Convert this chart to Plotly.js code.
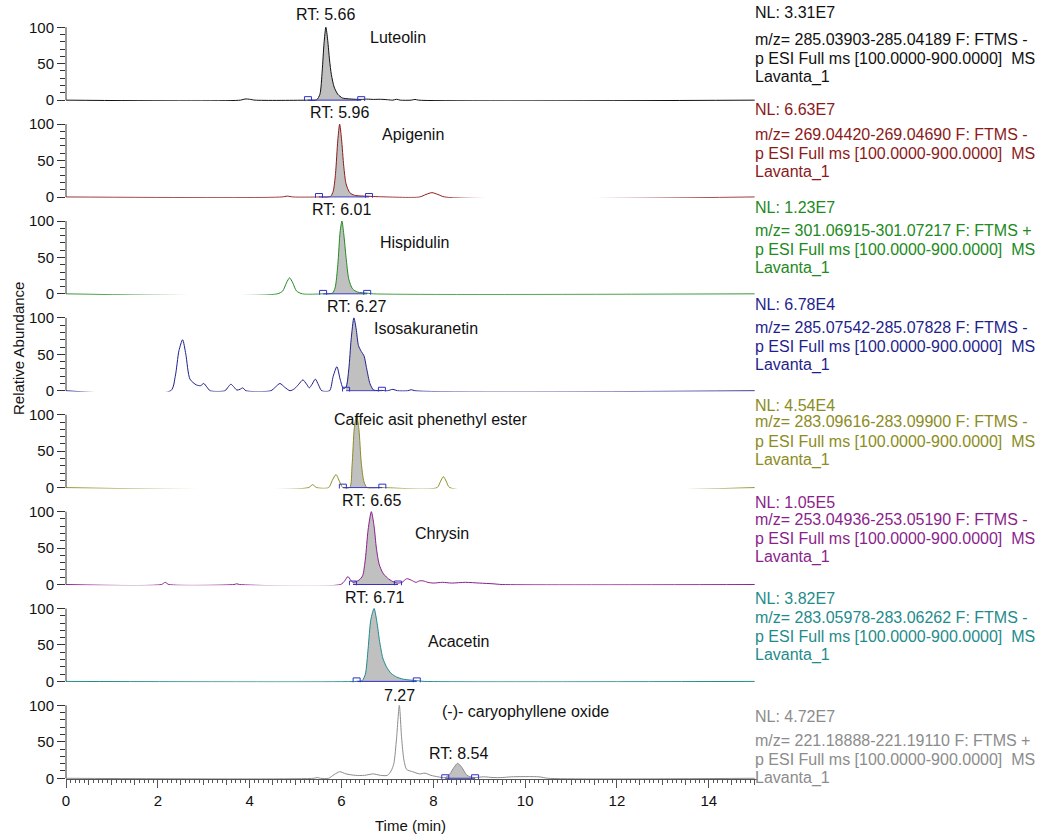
<!DOCTYPE html>
<html>
<head>
<meta charset="utf-8">
<script src="https://cdn.plot.ly/plotly-3.0.1.min.js"></script>
<style>
  html, body { margin: 0; padding: 0; background: #fff; }
  #chart { width: 1040px; height: 836px; }
</style>
</head>
<body>
<div id="chart"></div>
<script>
// ---- Extracted ion chromatograms, sample Lavanta_1 ----
const compounds = ["Luteolin", "Apigenin", "Hispidulin", "Isosakuranetin",
  "Caffeic asit phenethyl ester", "Chrysin", "Acacetin", "(-)- caryophyllene oxide"];
const rtLabels = ["RT: 5.66", "RT: 5.96", "RT: 6.01", "RT: 6.27", "", "RT: 6.65", "RT: 6.71", "7.27"];
const nlValues = ["3.31E7", "6.63E7", "1.23E7", "6.78E4", "4.54E4", "1.05E5", "3.82E7", "4.72E7"];
const mzRanges = ["285.03903-285.04189", "269.04420-269.04690", "301.06915-301.07217",
  "285.07542-285.07828", "283.09616-283.09900", "253.04936-253.05190",
  "283.05978-283.06262", "221.18888-221.19110"];
const polarity = ["-", "-", "+", "-", "-", "-", "-", "+"];
const scanFilter = "p ESI Full ms [100.0000-900.0000]  MS";
const sampleName = "Lavanta_1";

// integration window of the labelled peak (min)
const peakStart = [5.27, 5.51, 5.60, 6.10, 6.03, 6.25, 6.33, 8.26];
const peakEnd   = [6.43, 6.60, 6.56, 6.88, 6.89, 7.23, 7.64, 8.91];

// time (min) / relative abundance (%)
const luteolinTime = [0, 3.80, 3.90, 4.00, 4.12, 5.27, 5.46, 5.53, 5.58, 5.62, 5.66, 5.70, 5.74, 5.78, 5.84, 5.92, 6.02, 6.15, 6.30, 6.43, 6.55, 6.70, 6.85, 7.00, 7.12, 7.20, 7.28, 7.52, 7.60, 7.68, 15];
const luteolinAbund = [0, 0, 1.6, 1.2, 0, 0, 0.5, 8, 40, 78, 100, 82, 55, 35, 18, 8, 3, 1.8, 1.2, 1, 1.4, 1, 1.2, 0.6, 0, 1.2, 0, 0, 1, 0, 0];

const apigeninTime = [0, 4.70, 4.82, 4.95, 5.51, 5.76, 5.82, 5.87, 5.92, 5.96, 6.00, 6.05, 6.10, 6.18, 6.28, 6.40, 6.60, 6.80, 7.70, 7.84, 7.97, 8.10, 8.25, 15];
const apigeninAbund = [0, 0, 1.2, 0, 0, 0.8, 8, 32, 78, 100, 80, 42, 18, 6, 2.5, 1.5, 1, 0.4, 0, 3.5, 6, 3.5, 0, 0];

const hispidulinTime = [0, 4.60, 4.72, 4.80, 4.87, 4.94, 5.02, 5.15, 5.60, 5.80, 5.86, 5.92, 5.97, 6.01, 6.05, 6.10, 6.16, 6.24, 6.35, 6.56, 6.70, 15];
const hispidulinAbund = [0, 0, 4, 15, 22, 15, 4, 0, 0, 1, 8, 40, 85, 100, 82, 50, 20, 7, 2.5, 1, 0, 0];

const isosakuranetinTime = [0, 2.28, 2.38, 2.46, 2.54, 2.61, 2.70, 2.84, 2.93, 3.00, 3.07, 3.14, 3.46, 3.53, 3.59, 3.66, 3.72, 3.79, 3.85, 3.92, 4.46, 4.56, 4.66, 4.76, 4.88, 4.98, 5.07, 5.16, 5.24, 5.30, 5.36, 5.43, 5.50, 5.57, 5.74, 5.82, 5.90, 5.97, 6.04, 6.10, 6.16, 6.21, 6.27, 6.32, 6.37, 6.43, 6.49, 6.55, 6.62, 6.70, 6.88, 7.00, 7.12, 7.22, 7.44, 7.52, 7.60, 15];
const isosakuranetinAbund = [0, 0, 20, 55, 70, 50, 16, 8, 7, 10, 5, 0, 0, 5, 9, 5, 1, 2, 4, 0, 0, 5, 10, 5, 0, 3, 9, 15, 9, 4, 9, 16, 8, 0, 0, 20, 33, 16, 3, 5, 30, 70, 100, 85, 62, 54, 48, 30, 10, 1, 0.5, 0, 2, 0, 0, 1.5, 0, 0];

const caffeicTime = [0, 5.28, 5.37, 5.46, 5.72, 5.80, 5.88, 5.96, 6.03, 6.18, 6.23, 6.28, 6.33, 6.38, 6.43, 6.49, 6.56, 6.89, 8.08, 8.16, 8.22, 8.28, 8.36, 15];
const caffeicAbund = [0, 0, 4, 0, 0, 10, 18, 8, 0, 0, 30, 82, 100, 80, 35, 8, 0, 0, 0, 9, 15, 9, 0, 0];

const chrysinTime = [0, 2.08, 2.16, 2.24, 3.66, 3.72, 3.78, 5.98, 6.07, 6.14, 6.20, 6.25, 6.38, 6.46, 6.52, 6.58, 6.65, 6.71, 6.76, 6.82, 6.90, 7.00, 7.12, 7.23, 7.32, 7.42, 7.52, 7.62, 7.70, 7.78, 7.88, 8.00, 8.20, 8.40, 8.70, 9.00, 9.30, 9.50, 15];
const chrysinAbund = [0, 0, 3, 0, 0, 1, 0, 0, 5, 11, 6, 3, 6, 12, 35, 75, 100, 80, 50, 28, 16, 9, 4, 2, 3, 8, 6, 3, 5, 5, 3, 2, 3, 2, 3, 2, 1, 0, 0];

const acacetinTime = [0, 6.33, 6.45, 6.52, 6.58, 6.64, 6.71, 6.77, 6.83, 6.90, 6.98, 7.08, 7.20, 7.35, 7.64, 7.80, 15];
const acacetinAbund = [0, 0, 1, 10, 45, 85, 100, 82, 55, 32, 20, 11, 6, 3, 1, 0, 0];

const caryophylleneTime = [0, 5.40, 5.47, 5.54, 5.72, 5.84, 5.96, 6.10, 6.30, 6.50, 6.69, 6.85, 7.00, 7.08, 7.14, 7.20, 7.26, 7.31, 7.36, 7.42, 7.55, 7.70, 7.82, 7.95, 8.10, 8.26, 8.36, 8.45, 8.53, 8.62, 8.72, 8.80, 8.91, 9.10, 9.30, 9.50, 9.70, 10.30, 10.50, 15];
const caryophylleneAbund = [0, 0, 1, 0, 0, 5, 9, 6, 4, 4, 6, 4, 4, 10, 20, 55, 100, 55, 25, 12, 9, 6, 7, 4, 2, 1, 6, 15, 20.5, 15, 5, 2, 1, 2, 1, 1, 2, 2, 0, 0];

const seriesTime = [luteolinTime, apigeninTime, hispidulinTime, isosakuranetinTime,
  caffeicTime, chrysinTime, acacetinTime, caryophylleneTime];
const seriesAbund = [luteolinAbund, apigeninAbund, hispidulinAbund, isosakuranetinAbund,
  caffeicAbund, chrysinAbund, acacetinAbund, caryophylleneAbund];

// ---- styling ----
const FONT = "Liberation Sans, Arial, Helvetica, sans-serif";
const traceColors = ["#111111", "#8b1a1a", "#218a21", "#1f1f8c", "#8c8c22", "#8b1f8b", "#1f8b8b", "#8c8c8c"];
const textColors  = ["#111111", "#8b1a1a", "#218a21", "#1f1f8c", "#8c8c22", "#8b1f8b", "#1f8b8b", "#8c8c8c"];
const markerBlue = "#3030c8";
const fillGrey = "#c0c0c0";
const N = 8;
const PLOT_TOP = 4, PLOT_H = 775;
const Y_RANGE = [-1, 131.9];
const X_RANGE = [0, 15.05];

// label placement per panel (axis units)
const namePos = [[7.23, 86], [7.56, 86], [7.60, 71], [7.84, 86], [7.93, 94], [8.19, 70], [8.54, 55], [10.0, 92]];
const rtPos = [[5.66, 117], [5.96, 116], [6.01, 116], [6.33, 115], [6.33, 115], [6.65, 115], [6.71, 115], [7.27, 114]];
// header text rows (px from top)
const nlRow = [13, 110, 207, 304, 405, 502, 598, 716];
const mzRow = [39, 134, 230, 327, 422, 519, 617, 740];

const pxToPaper = py => 1 - (py - PLOT_TOP) / PLOT_H;
const yName = k => (k === 0 ? "y" : "y" + (k + 1));

const traces = [];
for (let k = 0; k < N; k++) {
  const t = seriesTime[k], a = seriesAbund[k];
  const ft = [], fa = [];
  for (let i = 0; i < t.length; i++) {
    if (t[i] >= peakStart[k] && t[i] <= peakEnd[k]) { ft.push(t[i]); fa.push(a[i]); }
  }
  // shaded integrated area
  traces.push({
    x: ft, y: fa, xaxis: "x", yaxis: yName(k), type: "scatter", mode: "lines",
    line: { width: 0, shape: "spline", smoothing: 0.7 }, fill: "tozeroy", fillcolor: fillGrey,
    hoverinfo: "skip", showlegend: false
  });
  // chromatogram trace
  traces.push({
    x: t, y: a, xaxis: "x", yaxis: yName(k), type: "scatter", mode: "lines",
    line: { color: traceColors[k], width: 1, shape: "spline", smoothing: 0.7 },
    showlegend: false, name: compounds[k]
  });
  // integration baseline with start / end markers
  traces.push({
    x: [peakStart[k], peakEnd[k]], y: [0, 0], xaxis: k === N - 1 ? "x2" : "x", yaxis: yName(k),
    type: "scatter", mode: "lines+markers",
    line: { color: markerBlue, width: 1 },
    marker: { symbol: "square-open", size: 7, color: markerBlue, line: { width: 1, color: markerBlue } },
    showlegend: false, hoverinfo: "skip"
  });
}

const layout = {
  width: 1040, height: 836,
  margin: { l: 66, r: 283, t: PLOT_TOP, b: 836 - PLOT_TOP - PLOT_H },
  paper_bgcolor: "#ffffff", plot_bgcolor: "#ffffff",
  showlegend: false,
  font: { family: FONT, size: 15, color: "#111" },
  xaxis: {
    range: X_RANGE, anchor: yName(N - 1), showgrid: false, zeroline: false,
    showline: true, linecolor: "#555", linewidth: 1,
    ticks: "outside", tick0: 0, dtick: 2, ticklen: 8, tickcolor: "#555", tickwidth: 1,
    tickfont: { size: 15, color: "#111" },
    minor: { ticks: "outside", dtick: 0.1, tick0: 0, ticklen: 3, tickcolor: "#555", tickwidth: 1 }
  },
  xaxis2: {
    range: X_RANGE, overlaying: "x", anchor: yName(N - 1), showgrid: false, zeroline: false,
    showline: false, showticklabels: false,
    ticks: "outside", tick0: 0, dtick: 0.5, ticklen: 5, tickcolor: "#555", tickwidth: 1
  },
  shapes: [],
  annotations: []
};

for (let k = 0; k < N; k++) {
  const key = k === 0 ? "yaxis" : "yaxis" + (k + 1);
  layout[key] = {
    domain: [1 - (k + 1) / N, 1 - k / N], range: Y_RANGE, anchor: "x",
    showgrid: false, zeroline: false, showline: false,
    tickmode: "array", tickvals: [0, 50, 100], ticktext: ["0", "50", "100"],
    ticks: "outside", ticklen: 8, tickcolor: "#333", tickwidth: 1,
    tickfont: { size: 15, color: "#111" },
    minor: { tickmode: "array", tickvals: [10, 20, 30, 40, 60, 70, 80, 90], ticks: "outside", ticklen: 5, tickcolor: "#333", tickwidth: 1 }
  };
  // y axis spine over 0..100 only
  layout.shapes.push({
    type: "line", xref: "paper", yref: yName(k), x0: 0, x1: 0, y0: 0, y1: 100,
    line: { color: "#333", width: 1 }
  });
  // compound name
  layout.annotations.push({
    xref: "x", yref: yName(k), x: namePos[k][0], y: namePos[k][1], text: compounds[k],
    showarrow: false, font: { family: FONT, size: 16, color: "#111" }
  });
  // retention time label
  if (rtLabels[k]) {
    layout.annotations.push({
      xref: "x", yref: yName(k), x: rtPos[k][0], y: rtPos[k][1], text: rtLabels[k],
      showarrow: false, font: { family: FONT, size: 16, color: "#111" }
    });
  }
  // header block on the right
  const rows = [
    [nlRow[k], "NL: " + nlValues[k]],
    [mzRow[k], "m/z= " + mzRanges[k] + " F: FTMS " + polarity[k]],
    [mzRow[k] + 19, scanFilter],
    [mzRow[k] + 38, sampleName]
  ];
  rows.forEach(([py, txt]) => {
    layout.annotations.push({
      xref: "paper", yref: "paper", x: (753 - 66) / 691, y: pxToPaper(py),
      xanchor: "left", yanchor: "middle", text: txt.replace(/  /g, " &nbsp;"),
      showarrow: false, font: { family: FONT, size: 16, color: textColors[k] }
    });
  });
}

// second RT label on the caryophyllene oxide panel
layout.annotations.push({
  xref: "x", yref: yName(N - 1), x: 8.54, y: 34, text: "RT: 8.54",
  showarrow: false, font: { family: FONT, size: 16, color: "#111" }
});

// axis titles
layout.annotations.push({
  xref: "paper", yref: "paper", x: (410 - 66) / 691, y: pxToPaper(826),
  xanchor: "center", yanchor: "middle",
  text: "Time (min)", showarrow: false, font: { family: FONT, size: 15, color: "#111" }
});
layout.annotations.push({
  xref: "paper", yref: "paper", x: (18 - 66) / 691, y: pxToPaper(348),
  xanchor: "center", yanchor: "middle",
  text: "Relative Abundance", textangle: -90, showarrow: false,
  font: { family: FONT, size: 15, color: "#111" }
});

Plotly.newPlot("chart", traces, layout, { staticPlot: true, displayModeBar: false });
</script>
</body>
</html>
